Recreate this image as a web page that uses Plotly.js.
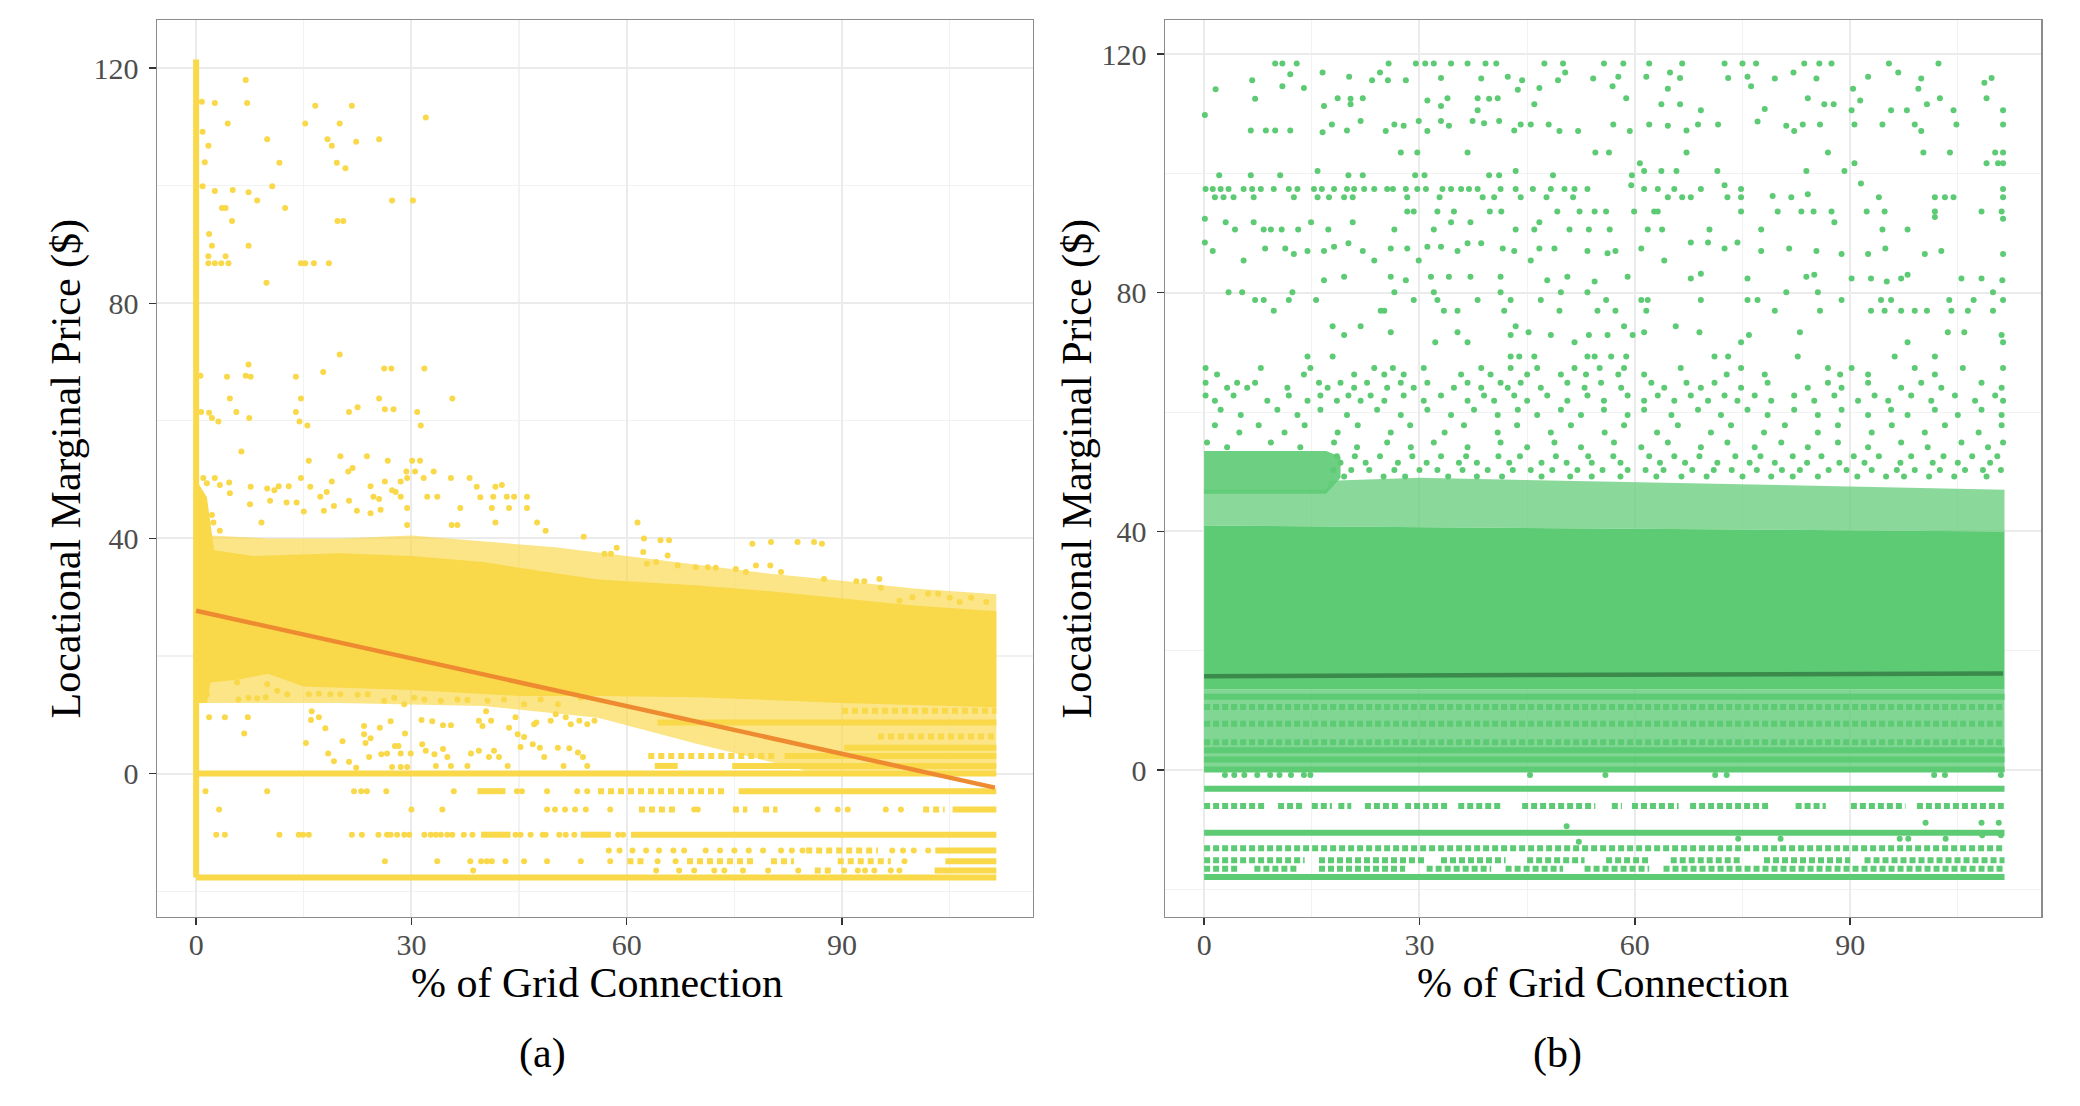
<!DOCTYPE html>
<html>
<head>
<meta charset="utf-8">
<script src="https://cdn.plot.ly/plotly-3.0.1.min.js"></script>
<style>
  html, body { margin: 0; padding: 0; background: #fff; }
  #chart { width: 2080px; height: 1106px; }
</style>
</head>
<body>
<div id="chart"></div>
<script>
// ---------- panel (a): price vs % of grid connection ----------
// dense core of the cloud (outline, data units)
var aCoreX = [0, 1.5, 2.5, 8, 20, 30, 40, 45, 56, 70, 80, 90, 100, 111.5, 111.5, 90, 70, 56, 45, 30, 15, 10, 6, 2, 1.5, 0];
var aCoreY = [50, 47, 38, 37, 37.5, 37, 36, 35, 33, 32, 31, 29.8, 28.6, 27.6, 11.3, 12, 13, 13.2, 13.2, 14.2, 14.8, 17, 16, 15.5, 12, 12];
// speckled fringe around the core
var aHaloX = [0, 2, 10, 20, 30, 40, 50, 60, 70, 80, 90, 100, 111.5, 111.5, 85, 70, 56, 40, 20, 2, 0];
var aHaloY = [50, 40.5, 40, 40, 40.5, 39.5, 38.5, 37, 35.5, 34, 32.8, 31.5, 30.5, 0.5, 0.5, 5, 9.5, 11.5, 12, 12, 12];
// column of points at 0 %
var aStripY = [-17.7, 121.5];
// price levels that read as continuous rows
var aSolidY  = [0, -17.7, -10.4, -10.4, -10.4, -3.0, -3.0, 1.3, 1.3, 3.0, 4.4, 8.7, -14.9, -16.5, -13.1, -6.1];
var aSolidX0 = [0, 0, 39.7, 53.6, 60.6, 75.6, 39.2, 63.9, 74.7, 82, 90.3, 64.3, 104.4, 102.9, 103, 105.4];
var aSolidX1 = [111.5, 111.5, 43.8, 57.8, 111.5, 111.5, 43.1, 67.1, 111.5, 111.5, 111.5, 111.5, 111.5, 111.5, 111.5, 111.5];
// price levels that read as dotted rows
var aDotY  = [-3.0, -6.1, -6.1, -6.1, -6.1, -13.1, -14.9, -14.9, -14.9, -14.9, -16.5, 10.7, 6.3, 3.0];
var aDotX0 = [56, 61.7, 74.8, 79, 101.3, 85, 68.4, 80.1, 89.4, 60.1, 86.2, 90, 95, 63];
var aDotX1 = [74, 67.1, 76.8, 81, 104.3, 95, 77.7, 83.3, 96.8, 62.9, 88.6, 111.5, 111.5, 81];
// single points on the negative price rows
var aRowY = [-10.4, -3.0, -6.1, -13.1, -14.9, -16.5];
var aRowX = [
  [2.8, 4.0, 11.6, 14.3, 14.9, 15.7, 21.7, 23.1, 25.4, 26.6, 27.1, 28.0, 29.0, 29.7, 31.8, 32.7, 33.4, 34.1, 35.0, 35.7, 37.3, 38.5, 44.5, 45.2, 46.6, 48.3, 48.7, 50.6, 51.5, 52.7, 58.8, 59.5],
  [1.3, 9.9, 22.0, 23.0, 23.8, 26.5, 35.9, 44.7, 45.4, 48.9, 53.1, 54.5],
  [3.2, 30.0, 34.3, 48.9, 50.0, 51.4, 52.8, 54.3, 57.7, 69.4, 69.9, 86.6, 89.4, 90.8, 96.1, 98.2],
  [57.5, 59.0, 60.8, 62.7, 64.5, 66.5, 68.0, 71.0, 73.0, 75.0, 77.0, 79.0, 81.5, 83.0, 84.5, 97.0, 98.5, 100.0, 102.0],
  [26.3, 33.6, 38.2, 39.7, 40.5, 41.2, 43.1, 45.7, 48.9, 53.6, 57.7, 64.3, 66.8, 98.7],
  [38.6, 64.1, 67.3, 69.4, 72.2, 73.6, 76.2, 79.7, 83.9, 90.3, 92.2, 93.2, 94.5, 96.8, 98.0]
];
// scattered single points
var aPtX = [6.9, 7.1, 2.6, 0.8, 16.6, 21.7, 32.0, 4.4, 15.2, 20.0, 0.9, 9.9, 18.3, 25.5, 22.3, 18.9, 1.7, 11.6, 19.6, 20.8, 1.2, 0.9, 2.6, 5.1, 7.3, 10.6, 8.5, 27.3, 30.2, 3.6, 4.1, 12.4, 5.0, 19.7, 20.5, 1.8, 2.2, 7.3, 1.7, 4.1, 1.7, 2.6, 3.5, 4.5, 14.6, 15.2, 16.4, 18.5, 9.8,
  20.0, 7.3, 26.2, 27.2, 31.8, 17.7, 4.3, 6.9, 7.6, 13.9, 0.6, 4.7, 14.6, 25.5, 35.7, 22.5, 21.3, 26.3, 27.5, 30.8, 31.3, 0.7, 1.8, 2.2, 3.1, 5.6, 7.4, 13.9, 14.4, 15.5,
  6.3, 15.7, 20.1, 23.8, 26.7, 30.1, 31.2, 21.2, 21.8, 29.3, 30.5, 1.0, 1.5, 2.6, 4.6, 3.3, 7.6, 9.9, 10.9, 11.5, 12.9, 14.6, 15.9, 18.9, 26.3, 28.5, 29.4, 31.7, 33.1, 35.5, 38.1, 41.7, 42.6, 39.1, 24.3, 27.3, 28.5, 27.8, 24.7, 25.5, 32.2, 33.6, 41.4, 43.3, 44.3, 46.1, 17.3, 18.2, 4.7,
  7.5, 10.3, 12.6, 14.0, 15.0, 17.8, 19.2, 21.3, 22.4, 24.3, 25.7, 29.4, 36.8, 39.6, 41.2, 43.6, 46.1, 41.7, 47.5, 48.7, 29.4, 35.6, 36.4, 9.1, 2.2, 2.4, 3.3, 61.5, 62.4, 64.7, 65.9, 54.0, 77.5, 80.1, 83.8, 86.1, 87.2,
  65.7, 62.3, 62.8, 64.1, 58.6, 56.9, 57.8, 67.1, 69.6, 71.3, 72.4, 75.2, 76.6, 78.0, 80.0, 81.5, 87.5, 92.0, 93.1, 95.2, 95.4, 102.0, 103.4, 105.0, 106.4, 108.0, 110.1, 99.8, 98.0,
  1.8, 4.0, 7.2, 6.7, 16.1, 17.1, 16.0, 18.0, 15.3, 18.4, 19.2, 21.3, 22.3, 20.4, 23.4, 23.4, 23.6, 25.6, 24.3, 25.8, 26.6, 24.1, 27.1, 27.7, 28.2, 29.1, 28.5, 29.9, 27.3, 28.5, 29.4,
  31.4, 32.9, 34.4, 35.5, 31.5, 32.0, 33.2, 34.4, 35.0, 33.4, 35.5, 37.8, 38.3, 39.4, 39.9, 40.4, 41.1, 39.4, 40.8, 41.5, 42.2, 43.4, 43.6, 44.5, 44.8, 45.7, 45.2, 46.9, 47.9, 48.5,
  47.4, 49.4, 50.1, 51.5, 52.2, 53.4, 54.5, 55.5, 50.4, 52.0, 53.2, 53.9, 51.2, 54.5, 47.1,
  1.1, 1.5, 5.9, 7.3, 8.5, 9.7, 12.7, 5.7, 9.9, 11.3, 15.7, 17.1, 18.7, 20.1, 22.5, 23.9, 26.2, 27.6, 29.0, 30.4, 31.8, 34.1, 36.4, 37.8, 40.6, 42.9, 45.7, 48.0, 50.4, 53.6];
var aPtY = [118.0, 114.1, 114.1, 114.3, 113.6, 113.6, 111.6, 110.6, 110.6, 110.6, 109.2, 107.9, 107.9, 107.9, 107.5, 106.8, 106.8, 103.9, 103.9, 103.0, 104.0, 99.9, 99.1, 99.3, 98.9, 99.9, 97.5, 97.5, 97.5, 96.2, 96.2, 96.2, 94.0, 94.0, 94.0, 91.8, 89.8, 89.8, 88.0, 88.0, 86.8, 86.8, 86.8, 86.8, 86.8, 86.8, 86.8, 86.8, 83.5,
  71.3, 69.6, 68.9, 68.9, 68.9, 68.3, 67.5, 67.7, 67.5, 67.5, 67.7, 63.8, 63.8, 63.8, 63.8, 62.3, 61.5, 62.0, 62.0, 61.5, 59.2, 61.5, 61.4, 60.5, 59.9, 61.5, 60.5, 61.5, 59.9, 59.2,
  54.8, 53.2, 54.0, 54.0, 53.2, 53.2, 53.2, 51.4, 52.0, 51.4, 51.4, 50.3, 49.4, 50.3, 49.5, 49.1, 48.8, 48.5, 48.2, 48.9, 48.9, 50.3, 48.8, 49.7, 49.7, 49.7, 50.3, 50.3, 51.4, 50.3, 50.3, 48.8, 49.1, 48.8, 48.9, 48.2, 47.1, 47.9, 47.1, 46.7, 47.1, 47.1, 47.1, 47.1, 47.1, 47.1, 47.1, 47.9, 47.7,
  45.8, 46.4, 46.1, 46.1, 44.6, 44.7, 45.5, 46.4, 44.7, 44.3, 44.9, 45.2, 45.2, 47.0, 45.2, 45.2, 45.2, 42.7, 42.7, 41.3, 42.3, 42.3, 42.3, 42.7, 44.0, 42.7, 41.3, 42.7, 40.0, 39.7, 39.7, 40.3, 39.1, 39.4, 39.4, 39.4, 39.1,
  37.1, 37.7, 35.7, 36.0, 38.4, 37.4, 37.4, 35.4, 35.1, 35.1, 35.0, 34.8, 34.3, 35.4, 35.4, 34.3, 33.1, 32.7, 32.7, 33.1, 31.6, 30.6, 30.6, 29.9, 29.2, 29.9, 29.2, 30.0, 29.4,
  9.6, 9.6, 9.6, 6.8, 10.6, 9.6, 9.1, 7.7, 5.2, 3.4, 2.1, 2.0, 1.0, 5.5, 8.1, 6.7, 5.2, 7.8, 6.0, 3.3, 3.4, 2.8, 8.9, 4.7, 4.7, 6.8, 3.4, 3.4, 1.1, 1.1, 1.1,
  9.1, 8.9, 8.2, 8.2, 5.0, 3.9, 3.3, 4.2, 2.8, 1.3, 1.3, 1.3, 3.4, 3.9, 8.1, 10.6, 9.0, 9.0, 2.8, 3.9, 2.8, 1.3, 7.8, 9.6, 6.7, 6.2, 4.5, 5.0, 4.4, 2.8,
  8.7, 9.0, 10.1, 9.6, 8.4, 9.0, 8.4, 9.0, 4.4, 4.3, 3.6, 2.8, 1.3, 1.3, 8.4,
  15.2, 13.5, 12.6, 12.9, 12.8, 13.0, 13.5, 15.5, 15.2, 14.1, 13.5, 13.6, 13.5, 13.5, 13.4, 13.5, 12.4, 12.9, 11.8, 12.9, 12.6, 12.4, 12.6, 12.5, 12.4, 12.6, 11.8, 12.6, 11.8, 12.9];
// linear fit
var aFitX = [0, 111.3];
var aFitY = [27.7, -2.4];

// ---------- panel (b) ----------
var bCoreX = [0, 111.5, 111.5, 0];
var bCoreY = [41, 40, 13.5, 13.5];
var bHaloX = [0, 0, 17, 17.5, 30, 50, 70, 90, 111.5, 111.5];
var bHaloY = [41, 47, 47, 48.5, 49, 48.5, 48, 47.5, 47, 40];
var bBlockX = [0, 0, 17, 19, 19, 17];
var bBlockY = [46.3, 53.5, 53.5, 52.5, 49, 46.3];
var bLowX = [0, 111.5, 111.5, 0];
var bLowY = [13.5, 13.5, -0.3, -0.3];
var bSolidY  = [0.1, 1.8, 3.35, 12.3, -3.1, -10.5, -17.9];
var bSolidX0 = [0, 0, 0, 0, 0, 0, 0];
var bSolidX1 = [111.5, 111.5, 111.5, 111.5, 111.5, 111.5, 111.5];
var bDotY  = [4.7, 7.8, 10.6, -13.1,
  -6.0, -6.0, -6.0, -6.0, -6.0, -6.0, -6.0, -6.0, -6.0, -6.0, -6.0, -6.0, -6.0, -6.0,
  -15.1, -15.1, -15.1, -15.1, -15.1, -15.1, -15.1, -15.1,
  -16.5, -16.5, -16.5, -16.5, -16.5, -16.5, -16.5];
var bDotX0 = [0, 0, 0, 0,
  0, 10.3, 15, 18.7, 22.4, 28, 35.4, 44.3, 56.8, 59.6, 67.7, 82.4, 90.1, 99.3,
  0, 16, 33, 45, 56, 65, 78, 92,
  0, 7, 16, 31, 42, 53, 64];
var bDotX1 = [111.5, 111.5, 111.5, 111.5,
  8.5, 14.0, 17.8, 20.5, 27.1, 34, 41.5, 54.5, 58.2, 66.1, 78.7, 86.6, 97.7, 111.4,
  14, 31, 42, 53, 62, 75, 90, 111.5,
  5, 13, 28, 40, 50, 62, 111.5];
var bRowY = [118.4, 116.9, 116.6, 116.2, 116.0, 115.9, 115.6, 115.2, 114.6, 114.3, 114.2, 114.1, 114.0,
  112.6, 112.5, 112.2, 111.6, 111.3, 110.8, 110.6, 109.8, 108.8, 108.7, 108.4, 108.2, 108.0, 107.2, 107.1, 106.9,
  103.5, 101.7, 100.4, 99.7, 98.3, 98.0, 97.4, 96.5, 96.2, 96.0, 93.6, 92.7, 92.4, 91.8, 90.6,
  88.4, 88.3, 87.7, 87.4, 87.0, 86.6, 86.5, 85.4, 83.2, 83.0, 82.7, 82.4, 82.1, 81.9, 80.1, 78.8, 77.0,
  74.4, 73.4, 72.9, 71.7, 69.3, 67.4, 66.3, 64.9, 64.1, 62.8, 61.9, 60.4, 59.5, 57.8, 56.6, 54.9, 54.1, 51.5,
  52.6, 50.3, 49.2,
  -0.8, -8.8, -9.4, -10.9, -11.5, -12.0];
var bRowX = [
  [9.9, 10.9, 12.9, 25.7, 29.5, 30.8, 32.0, 34.4, 36.7, 39.2, 40.7, 47.4, 50.0, 55.7, 58.4, 62.0, 66.6, 72.5, 75.0, 76.9, 83.6, 85.7, 87.4, 95.4, 102.3],
  [16.5, 24.5, 50.3, 64.9, 82.1, 96.7],
  [12.0],
  [20.2, 42.3, 57.7, 61.6, 75.7, 92.5],
  [33.0, 66.3, 73.0, 109.7],
  [38.6, 54.2, 79.5, 85.3, 99.9],
  [6.7, 23.4, 25.6, 28.1, 44.3, 49.3],
  [108.7],
  [10.9, 56.9, 76.2],
  [46.7, 13.9],
  [64.6, 90.4, 99.5],
  [1.6],
  [43.7],
  [18.6, 22.1, 33.9, 38.1, 40.9, 58.8, 84.1, 102.5, 109.0],
  [7.1, 20.4, 39.7],
  [31.1, 91.4],
  [20.4, 46.0, 63.7, 66.3, 86.4, 87.7, 100.7],
  [16.7, 33.0],
  [78.1],
  [38.1, 69.2, 90.2, 95.7, 97.9, 104.4, 111.3],
  [0.1],
  [21.8, 29.9, 33.0, 37.4, 41.1],
  [77.1],
  [39.0],
  [17.8, 26.5, 44.1, 45.5, 48.0, 57.0, 62.0, 68.8, 71.6, 83.4, 85.8, 90.6, 94.5, 99.0, 104.8, 111.3],
  [27.8, 34.1, 64.6, 81.1],
  [6.5, 8.6, 9.9, 12.0, 19.9, 43.2, 67.2],
  [25.3, 31.1, 49.5, 52.1, 59.3, 82.2, 99.9],
  [16.5],
  [27.4, 29.7, 36.7, 54.5, 56.4, 67.2, 86.9, 100.2, 103.9, 110.2, 111.3],
  [60.7, 90.6, 109.0, 110.6, 111.3],
  [15.8, 43.4, 61.3, 63.7, 65.8, 71.5, 83.9, 89.2],
  [2.1, 6.5, 10.6, 20.1, 22.1, 29.4, 30.7, 39.7, 41.1, 48.6, 59.6],
  [91.5],
  [59.5, 72.5],
  [0.2, 1.2, 2.3, 3.4, 5.5, 6.7, 7.9, 9.7, 11.8, 13.0, 15.3, 16.4, 18.1, 19.9, 20.9, 22.3, 23.7, 25.5, 26.3, 28.1, 29.7, 30.9, 33.2, 34.4, 35.8, 36.9, 38.1, 41.3, 43.4, 45.8, 48.3, 50.2, 51.6, 53.4, 61.3, 63.2, 65.5, 69.2, 74.8, 111.3],
  [84.1],
  [79.2],
  [1.5, 2.7, 4.1, 6.9, 12.5, 15.8, 17.4, 19.5, 20.7, 28.3, 32.8, 38.8, 40.4, 44.1, 47.7, 51.4, 64.6, 66.6, 67.8, 72.9, 74.8, 81.8, 94.0, 101.8, 103.2, 104.4, 111.3],
  [28.3, 29.2, 32.5, 34.8, 39.8, 41.4, 49.2, 52.3, 54.4, 56.0, 59.9, 62.7, 63.2, 74.8, 79.9, 83.2, 84.9, 87.4, 92.3, 94.8, 101.8, 108.3, 111.1],
  [101.8],
  [0.1, 111.3],
  [3.0, 6.9, 14.9, 20.7, 34.4, 37.1, 46.7, 87.8],
  [4.3, 8.3, 9.3, 10.8, 13.1, 17.3, 26.5, 32.0, 43.4, 46.0, 50.9, 53.6, 56.5, 61.8, 63.8, 70.4, 77.6, 94.5, 98.0],
  [0.1, 67.8, 70.2, 74.3],
  [20.1, 36.7, 38.6],
  [18.1, 31.1, 33.0],
  [8.5, 11.3, 26.0, 28.3, 41.6, 46.7, 48.8, 60.9, 72.5, 81.5, 94.9],
  [1.2, 14.4, 16.7, 22.1, 35.3, 43.2, 53.4, 57.3, 77.6, 85.3, 102.7],
  [56.2],
  [12.5, 88.8, 92.5, 100.4, 111.3],
  [5.5, 23.7, 29.9, 45.5, 64.1],
  [69.2],
  [85.0, 98.0],
  [19.5, 26.0, 31.6, 34.1, 37.1, 41.3, 50.6, 59.0, 83.9],
  [67.8, 75.7, 90.2, 92.9, 97.1, 105.5, 108.3],
  [16.7, 28.1, 47.8, 111.2],
  [54.4, 95.1],
  [3.4, 5.3, 12.3, 26.5, 32.0, 41.3, 49.7, 53.4, 81.1, 85.5, 109.9],
  [7.1, 8.3, 11.8, 15.6, 29.2, 32.5, 38.1, 42.7, 46.9, 56.0, 60.9, 61.8, 69.2, 75.7, 77.1, 88.8, 94.3, 95.7, 103.8, 107.2, 111.3],
  [9.7, 24.6, 25.1, 33.4, 35.3, 41.8, 49.5, 54.8, 57.3, 61.6, 79.5, 85.8, 92.9, 94.8, 97.1, 99.0, 100.7, 104.1, 106.4, 109.9],
  [17.9, 21.8, 43.4, 58.5, 65.7],
  [26.0, 35.3, 45.2, 61.3, 69.0, 83.0, 103.6, 105.9],
  [19.5, 42.7, 48.3, 53.6, 56.2, 59.7, 75.9, 111.1],
  [32.2, 36.7, 51.6, 74.8, 98.0, 111.3],
  [14.4, 17.9, 42.7, 43.9, 46.0, 53.4, 54.4, 56.7, 58.8, 71.1, 73.0, 82.7, 96.2, 101.8],
  [0.2, 7.9, 14.8, 23.7, 26.3, 30.6, 38.6, 42.7, 46.4, 51.6, 55.1, 58.5, 66.4, 74.8, 86.9, 90.2, 99.0, 105.7, 111.3],
  [1.8, 13.9, 20.9, 25.1, 27.8, 35.8, 39.9, 45.0, 49.7, 53.2, 57.7, 61.3, 72.8, 78.1, 88.6, 92.5, 101.8],
  [0.2, 4.6, 7.1, 16.0, 19.0, 22.7, 27.4, 31.1, 36.7, 41.3, 44.1, 50.6, 55.3, 62.3, 67.2, 71.1, 78.5, 86.9, 92.5, 99.9, 108.3],
  [3.2, 6.0, 11.6, 17.2, 20.9, 25.5, 29.2, 34.8, 38.6, 42.3, 46.9, 53.0, 58.1, 64.1, 69.2, 74.8, 84.1, 88.8, 97.1, 102.7, 111.1],
  [0.2, 4.1, 11.8, 16.2, 20.1, 23.2, 27.8, 33.0, 39.0, 43.2, 47.8, 53.4, 59.0, 63.2, 67.8, 72.5, 76.7, 82.2, 87.8, 93.4, 98.5, 104.6, 110.2],
  [1.5, 8.8, 14.4, 18.5, 21.8, 25.1, 30.6, 36.7, 40.4, 45.0, 50.6, 55.7, 61.3, 65.5, 70.2, 74.3, 79.0, 85.0, 91.1, 95.3, 101.3, 107.4, 111.3],
  [2.3, 10.2, 16.2, 24.1, 31.1, 37.6, 43.7, 49.7, 55.7, 61.3, 68.8, 75.7, 82.2, 88.8, 95.7, 101.8, 108.3],
  [5.1, 13.0, 19.9, 27.4, 34.4, 40.9, 46.4, 52.5, 59.0, 65.1, 72.0, 78.5, 85.5, 92.5, 98.0, 105.0, 111.1],
  [1.5, 7.6, 14.0, 21.4, 28.7, 36.2, 43.6, 51.1, 58.5, 66.0, 73.4, 80.9, 88.3, 95.8, 103.2, 111.1],
  [4.9, 11.2, 18.6, 26.0, 33.5, 40.9, 48.3, 55.8, 63.1, 70.6, 78.0, 85.5, 93.0, 100.4, 107.9],
  [0.4, 9.3, 18.1, 25.5, 32.0, 41.3, 48.8, 57.1, 64.6, 72.9, 80.4, 88.3, 97.1, 105.5, 111.3],
  [3.2, 13.4, 21.3, 28.8, 36.7, 45.0, 52.5, 60.9, 69.2, 76.7, 84.1, 92.5, 100.8, 109.2],
  [19.0, 22.5, 27.0, 31.0, 35.5, 38.0, 42.5, 47.0, 50.5, 54.0, 58.0, 63.5, 67.0, 71.5, 76.0, 79.5, 84.0, 88.5, 92.0, 97.0, 101.5, 105.0, 109.5],
  [18.5, 21.0, 24.5, 29.0, 33.0, 36.5, 41.0, 44.0, 49.0, 53.5, 57.0, 62.0, 65.5, 69.0, 74.0, 77.5, 82.0, 86.0, 90.5, 94.0, 98.5, 103.0, 107.0, 110.5],
  [18.0, 20.5, 23.0, 26.5, 30.0, 32.5, 36.0, 39.5, 43.0, 45.5, 48.5, 52.0, 55.5, 59.0, 61.5, 64.0, 68.0, 71.0, 73.5, 77.0, 80.5, 83.0, 87.0, 89.5, 93.0, 96.5, 99.0, 102.5, 106.0, 108.5, 111.0],
  [19.5, 25.0, 28.0, 34.0, 38.0, 41.5, 47.0, 51.0, 54.0, 58.0, 63.0, 66.5, 70.0, 75.0, 79.0, 82.0, 85.5, 91.0, 95.0, 97.5, 101.0, 104.5, 109.0],
  [2.9, 4.2, 5.6, 7.4, 9.2, 10.5, 12.1, 13.9, 14.8, 45.4, 55.9, 71.2, 72.8, 101.7, 103.2, 111.0],
  [100.5, 108.3, 110.7],
  [50.5],
  [108.4, 111.0],
  [74.4, 80.3, 96.9, 98.1, 103.3],
  [52.2]
];
var bFitX = [0, 111.3];
var bFitY = [15.75, 16.2];

var tickVals = [0, 30, 60, 90];
var priceTicks = [0, 40, 80, 120];

// ---------- helpers ----------
function segments(ys, x0s, x1s) {
  var x = [], y = [];
  for (var i = 0; i < ys.length; i++) {
    x.push(x0s[i], x1s[i], null);
    y.push(ys[i], ys[i], null);
  }
  return { x: x, y: y };
}
function rowPoints(rowY, rowX) {
  var x = [], y = [];
  for (var i = 0; i < rowY.length; i++) {
    for (var j = 0; j < rowX[i].length; j++) {
      x.push(rowX[i][j]);
      y.push(rowY[i]);
    }
  }
  return { x: x, y: y };
}

var yellow = '#F9D849';
var yellowHalo = 'rgba(249,216,73,0.66)';
var green = '#5DCA74';
var greenHalo = 'rgba(93,202,116,0.72)';
var greenLow = 'rgba(93,202,116,0.78)';
var greenDense = 'rgba(93,202,116,0.9)';

function area(x, y, color, xa, ya) {
  return { x: x, y: y, xaxis: xa, yaxis: ya, type: 'scatter', mode: 'lines', fill: 'toself',
           fillcolor: color, line: { width: 0 }, hoverinfo: 'skip', showlegend: false };
}
function rows(seg, color, dash, xa, ya) {
  return { x: seg.x, y: seg.y, xaxis: xa, yaxis: ya, type: 'scatter', mode: 'lines',
           line: { color: color, width: 6, dash: dash }, connectgaps: false,
           hoverinfo: 'skip', showlegend: false };
}
function dots(x, y, color, xa, ya) {
  return { x: x, y: y, xaxis: xa, yaxis: ya, type: 'scatter', mode: 'markers',
           marker: { color: color, size: 6, line: { width: 0 } }, hoverinfo: 'skip', showlegend: false };
}

var aRows = rowPoints(aRowY, aRowX);
var bRows = rowPoints(bRowY, bRowX);

var traces = [
  // panel (a)
  area(aHaloX, aHaloY, yellowHalo, 'x', 'y'),
  area(aCoreX, aCoreY, yellow, 'x', 'y'),
  rows(segments(aSolidY, aSolidX0, aSolidX1), yellow, 'solid', 'x', 'y'),
  rows(segments(aDotY, aDotX0, aDotX1), yellow, '6px,4px', 'x', 'y'),
  { x: [0, 0], y: aStripY, xaxis: 'x', yaxis: 'y', type: 'scatter', mode: 'lines',
    line: { color: yellow, width: 6 }, hoverinfo: 'skip', showlegend: false },
  dots(aRows.x, aRows.y, yellow, 'x', 'y'),
  dots(aPtX, aPtY, yellow, 'x', 'y'),
  { x: aFitX, y: aFitY, xaxis: 'x', yaxis: 'y', type: 'scatter', mode: 'lines',
    line: { color: '#EE8A30', width: 4.5 }, hoverinfo: 'skip', showlegend: false },
  // panel (b)
  area(bHaloX, bHaloY, greenHalo, 'x2', 'y2'),
  area(bBlockX, bBlockY, greenDense, 'x2', 'y2'),
  area(bLowX, bLowY, greenLow, 'x2', 'y2'),
  area(bCoreX, bCoreY, green, 'x2', 'y2'),
  rows(segments(bSolidY, bSolidX0, bSolidX1), green, 'solid', 'x2', 'y2'),
  rows(segments(bDotY, bDotX0, bDotX1), green, '6px,3px', 'x2', 'y2'),
  dots(bRows.x, bRows.y, green, 'x2', 'y2'),
  { x: bFitX, y: bFitY, xaxis: 'x2', yaxis: 'y2', type: 'scatter', mode: 'lines',
    line: { color: '#3A8A4C', width: 4.5 }, hoverinfo: 'skip', showlegend: false }
];

var serif = 'Liberation Serif, Times New Roman, Times, serif';
var tickFont = { family: serif, size: 30, color: '#4d4d4d' };
var titleFont = { family: serif, size: 42, color: '#000000' };

function xAxis(domain, anchor) {
  return {
    domain: domain, anchor: anchor, range: [-5.45, 116.6],
    tickmode: 'array', tickvals: tickVals, ticks: 'outside', ticklen: 7, tickwidth: 1.5, tickcolor: '#333333',
    tickfont: tickFont, showgrid: true, gridcolor: '#EBEBEB', gridwidth: 2,
    minor: { dtick: 15, tick0: 0, showgrid: true, gridcolor: '#F2F2F2', gridwidth: 1.2 },
    showline: true, mirror: true, linecolor: '#8c8c8c', linewidth: 1.5, zeroline: false, fixedrange: true,
    ticklabelstandoff: -6
  };
}
function yAxis(domain, anchor, range) {
  return {
    domain: domain, anchor: anchor, range: range,
    tickmode: 'array', tickvals: priceTicks, ticks: 'outside', ticklen: 7, tickwidth: 1.5, tickcolor: '#333333',
    tickfont: tickFont, showgrid: true, gridcolor: '#EBEBEB', gridwidth: 2,
    minor: { dtick: 20, tick0: 0, showgrid: true, gridcolor: '#F2F2F2', gridwidth: 1.2 },
    showline: true, mirror: true, linecolor: '#8c8c8c', linewidth: 1.5, zeroline: false, fixedrange: true,
    ticklabelstandoff: 4
  };
}

var yDom = [0.1709, 0.9819];
var layout = {
  width: 2080, height: 1106,
  margin: { l: 0, r: 0, t: 0, b: 0 },
  paper_bgcolor: '#ffffff', plot_bgcolor: '#ffffff',
  showlegend: false, hovermode: false,
  xaxis: xAxis([0.0755, 0.4966], 'y'),
  yaxis: yAxis(yDom, 'x', [-24.4, 128.2]),
  xaxis2: xAxis([0.5601, 0.9813], 'y2'),
  yaxis2: yAxis(yDom, 'x2', [-24.6, 125.7]),
  annotations: [
    { text: '% of Grid Connection', xref: 'paper', yref: 'paper', x: 0.287, y: 0.111, showarrow: false, font: titleFont, xanchor: 'center', yanchor: 'middle' },
    { text: '% of Grid Connection', xref: 'paper', yref: 'paper', x: 0.7707, y: 0.111, showarrow: false, font: titleFont, xanchor: 'center', yanchor: 'middle' },
    { text: 'Locational Marginal Price ($)', xref: 'paper', yref: 'paper', x: 0.0322, y: 0.5764, textangle: -90, showarrow: false, font: titleFont, xanchor: 'center', yanchor: 'middle' },
    { text: 'Locational Marginal Price ($)', xref: 'paper', yref: 'paper', x: 0.5178, y: 0.5764, textangle: -90, showarrow: false, font: titleFont, xanchor: 'center', yanchor: 'middle' },
    { text: '(a)', xref: 'paper', yref: 'paper', x: 0.261, y: 0.0479, showarrow: false, font: titleFont, xanchor: 'center', yanchor: 'middle' },
    { text: '(b)', xref: 'paper', yref: 'paper', x: 0.7486, y: 0.0479, showarrow: false, font: titleFont, xanchor: 'center', yanchor: 'middle' }
  ]
};

Plotly.newPlot('chart', traces, layout, { staticPlot: true, displayModeBar: false });
</script>
</body>
</html>
